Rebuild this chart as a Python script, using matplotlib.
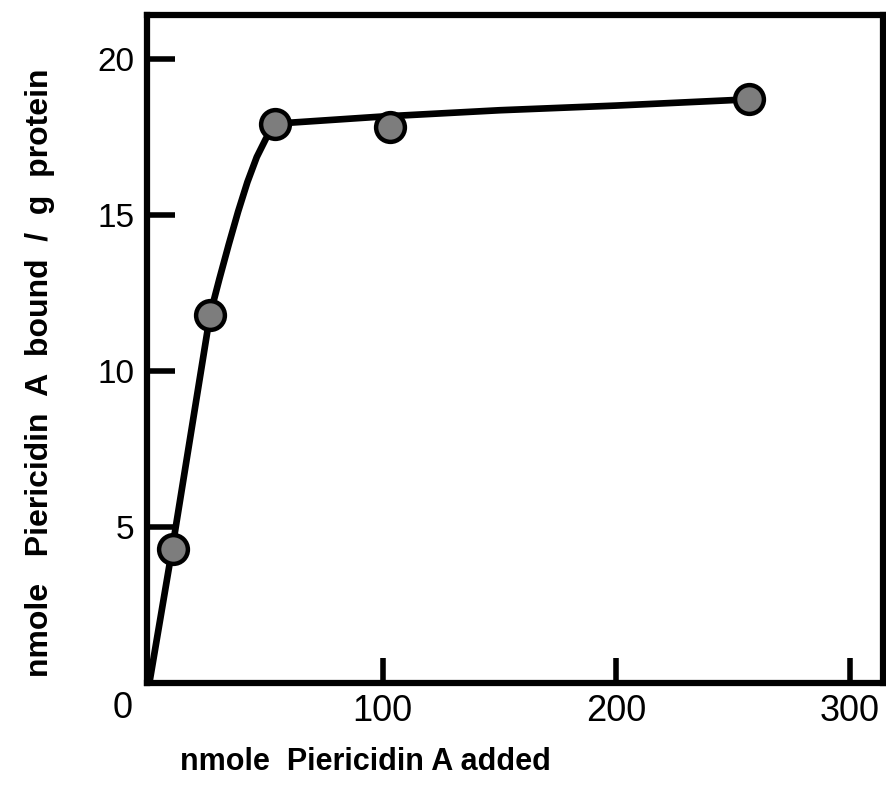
import numpy as np
import matplotlib.pyplot as plt

plt.rcParams['font.family'] = ['Liberation Sans', 'DejaVu Sans']

# measured binding points
added = [10, 26, 54, 103, 257]
bound = [4.3, 11.8, 17.9, 17.8, 18.7]

# hand-drawn saturation curve
curve_x = [0, 10, 26, 30, 34, 38, 42, 46, 50, 54, 60, 100, 150, 200, 257]
curve_y = [0, 4.4, 11.8, 12.95, 14.05, 15.1, 16.05, 16.85, 17.45, 17.85,
           17.95, 18.15, 18.35, 18.5, 18.7]

yticks = [5, 10, 15, 20]
xticks = [100, 200, 300]

fig = plt.figure(figsize=(8.86, 7.94), dpi=100)
ax = fig.add_axes([0.166, 0.14, 0.831, 0.841])

ax.plot(curve_x, curve_y, color='black', lw=4.8, solid_capstyle='round',
        solid_joinstyle='round', zorder=2)
ax.scatter(added, bound, s=430, facecolor='#7d7d7d', edgecolor='black',
           linewidth=3.2, zorder=3)

ax.set_xlim(-1, 314.5)
ax.set_ylim(0, 21.4)

for s in ax.spines.values():
    s.set_linewidth(4.5)

ax.set_yticks(yticks)
ax.set_yticklabels([str(t) for t in yticks])
ax.set_xticks(xticks)
ax.set_xticklabels([str(t) for t in xticks])
ax.tick_params(axis='y', direction='in', length=20, width=4, labelsize=24, pad=9)
ax.tick_params(axis='x', direction='in', length=18, width=4, labelsize=26, pad=8)

# shared origin label
ax.annotate('0', xy=(0, 0), xytext=(-19, -6), textcoords='offset points',
            fontsize=26, ha='center', va='top')

fig.text(0.412, 0.04, 'nmole  Piericidin A added', fontsize=22,
         fontweight='bold', ha='center', va='center')
fig.text(0.045, 0.531, 'nmole   Piericidin  A  bound  /  g  protein', fontsize=23,
         fontweight='bold', ha='center', va='center', rotation=90)

fig.savefig('out.png', dpi=100)
